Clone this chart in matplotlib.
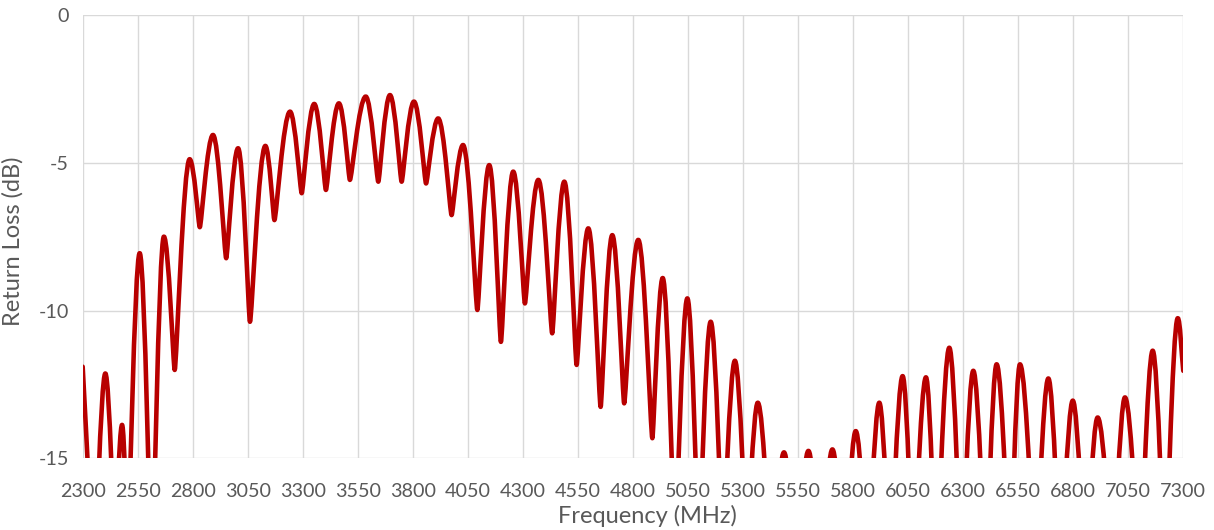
import matplotlib
matplotlib.use("Agg")
import matplotlib.pyplot as plt
from matplotlib.path import Path
from matplotlib.patches import PathPatch

# turning points of the trace (MHz, dB)
freq_mhz = [2300, 2353, 2403, 2447, 2479, 2504, 2559, 2614, 2669, 2718,
            2786, 2832, 2892, 2952, 3006, 3060, 3130, 3171, 3242, 3295,
            3352, 3405, 3464, 3514, 3586, 3643, 3696, 3749, 3805, 3860,
            3915, 3976, 4028, 4093, 4147, 4200, 4256, 4309, 4370, 4433,
            4488, 4544, 4597, 4653, 4706, 4760, 4824, 4888, 4935, 4991,
            5047, 5099, 5153, 5208, 5263, 5317, 5367, 5430, 5486, 5541,
            5597, 5651, 5706, 5760, 5812, 5866, 5919, 5968, 6025, 6073,
            6131, 6177, 6237, 6293, 6346, 6403, 6452, 6513, 6558, 6628,
            6687, 6742, 6798, 6855, 6911, 6980, 7035, 7103, 7161, 7217,
            7275, 7300]
return_loss_db = [-11.9, -19, -12.13, -18, -13.87, -18, -8.06, -19, -7.50, -12.01,
                  -4.88, -7.18, -4.06, -8.23, -4.51, -10.38, -4.43, -6.94, -3.27, -6.03,
                  -3.01, -5.92, -2.99, -5.58, -2.76, -5.64, -2.71, -5.64, -2.93, -5.70,
                  -3.50, -6.77, -4.40, -9.98, -5.08, -11.06, -5.30, -9.76, -5.58, -10.77,
                  -5.64, -11.84, -7.22, -13.26, -7.45, -13.14, -7.61, -14.32, -8.90, -18,
                  -9.59, -18, -10.38, -18, -11.70, -18, -13.12, -19, -14.8, -19,
                  -14.75, -19, -14.7, -19, -14.08, -19, -13.12, -19, -12.22, -19,
                  -12.26, -19, -11.26, -19, -12.04, -19, -11.82, -19, -11.82, -19,
                  -12.30, -19, -13.05, -19, -13.62, -19, -12.94, -19, -11.36, -19,
                  -10.26, -12.04]

x_ticks = list(range(2300, 7301, 250))
y_ticks = [0, -5, -10, -15]

LINE = '#B80000'
GRID = '#D9D9D9'
TEXT = '#595959'


def handle(xs, ys, i, d):
    # control point for a smoothed (Excel-like) line through the turning points
    if i == 0 or i == len(xs) - 1:
        j = 1 if i == 0 else i - 1
        return (xs[i] + d / 3.0, ys[i] + (ys[j] - ys[i]) / 3.0)
    if ys[i] > ys[i - 1]:
        return (xs[i] + 0.42 * d, ys[i])   # rounded peak
    return (xs[i] + 0.12 * d, ys[i])       # sharp dip


def smooth_path(xs, ys):
    verts = [(xs[0], ys[0])]
    codes = [Path.MOVETO]
    for i in range(len(xs) - 1):
        dx = xs[i + 1] - xs[i]
        verts += [handle(xs, ys, i, dx), handle(xs, ys, i + 1, -dx), (xs[i + 1], ys[i + 1])]
        codes += [Path.CURVE4] * 3
    return Path(verts, codes)


plt.rcParams['font.family'] = ['Lato', 'DejaVu Sans']
plt.rcParams['axes.unicode_minus'] = False

fig = plt.figure(figsize=(12.14, 5.30), dpi=100)
ax = fig.add_axes([0.0681, 0.1353, 0.9066, 0.8364])

ax.add_patch(PathPatch(smooth_path(freq_mhz, return_loss_db), fill=False,
                       edgecolor=LINE, lw=3.3, capstyle='round', joinstyle='round'))

ax.set_xlim(2300, 7300)
ax.set_ylim(-15, 0)
ax.set_xticks(x_ticks)
ax.set_yticks(y_ticks)
ax.grid(True, color=GRID, lw=1.0)
ax.set_axisbelow(True)
for s in ax.spines.values():
    s.set_visible(False)
ax.tick_params(length=0, labelsize=14.2, labelcolor=TEXT)
ax.tick_params(axis='x', pad=18)
ax.tick_params(axis='y', pad=10)

ax.set_xlabel('Frequency (MHz)', fontsize=17, color=TEXT)
ax.set_ylabel('Return Loss (dB)', fontsize=17, color=TEXT)
ax.xaxis.set_label_coords(0.513, -0.106)
ax.yaxis.set_label_coords(-0.054, 0.49)

fig.savefig('out.png', dpi=100)
